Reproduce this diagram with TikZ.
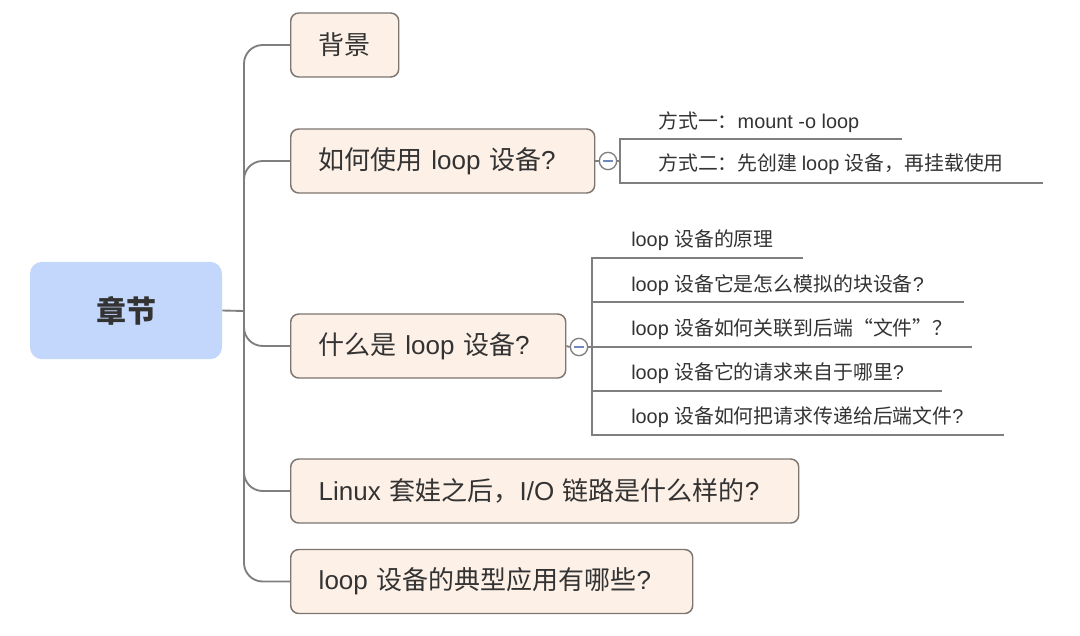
\documentclass[tikz,border=0pt]{standalone}
\usepackage{fontspec}
\setmainfont{Noto Sans CJK SC}
\newfontfamily\cjk{Noto Sans CJK SC}
\newfontfamily\lat{Liberation Sans}
\definecolor{rootfill}{HTML}{C3D6FC}
\definecolor{boxfill}{HTML}{FDF0E7}
\definecolor{boxline}{HTML}{7D7570}
\definecolor{conn}{HTML}{7F7F7F}
\definecolor{txt}{HTML}{333333}
\definecolor{minus}{HTML}{7088C0}
\tikzset{
  rootbox/.style={fill=rootfill, rounded corners=9pt, minimum width=144pt, minimum height=73pt, inner sep=0pt, text=txt, font=\cjk\fontsize{22.5pt}{26pt}\selectfont\bfseries},
  topic/.style={anchor=west, fill=boxfill, draw=boxline, line width=1.1pt, rounded corners=6pt, minimum height=48pt, inner xsep=21pt, inner ysep=0pt, align=left, text=txt, font=\cjk\fontsize{19.5pt}{23pt}\selectfont},
  leaf/.style={anchor=west, inner sep=0pt, text=txt, font=\cjk\fontsize{14.9pt}{18pt}\selectfont},
  link/.style={draw=conn, line width=1.4pt},
  leafline/.style={draw=conn, line width=1.2pt},
  fold/.style={circle, draw=conn, fill=white, line width=1pt, minimum size=13pt, inner sep=0pt}
}
\begin{document}
\begin{tikzpicture}[x=0.75pt, y=-0.75pt]
\useasboundingbox (0,0) rectangle (1080,635);
% root
\node[rootbox] (root) at (126,310.5) {章节};
% topics
\node[topic, text width=39pt] (b1) at (290,45) {\mbox{背景}};
\node[topic, text width=186pt] (b2) at (290,161) {\mbox{如何使用 {\lat loop }设备{\lat ?}}};
\node[topic, text width=164.25pt] (b3) at (290,346) {\mbox{什么是 {\lat loop }设备{\lat ?}}};
\node[topic, text width=339pt] (b4) at (290,491) {\mbox{{\lat Linux }套娃之后，{\lat I/O }链路是什么样的{\lat ?}}};
\node[topic, text width=259.5pt] (b5) at (290,581.5) {\mbox{{\lat loop }设备的典型应用有哪些{\lat ?}}};
% trunk
\coordinate (hub) at (244,311);
\draw[link] (root.east) -- (hub);
\draw[link, rounded corners=14pt] (hub) |- (b1.west);
\draw[link, rounded corners=14pt] (hub) |- (b2.west);
\draw[link, rounded corners=14pt] (hub) |- (b3.west);
\draw[link, rounded corners=14pt] (hub) |- (b4.west);
\draw[link, rounded corners=14pt] (hub) |- (b5.west);
% fold markers
\node[fold] (c2) at (608,161) {};
\node[fold] (c3) at (579,347) {};
\draw[link] (b2.east) -- (c2.west);
\draw[link] (b3.east) -- (c3.west);
\draw[draw=minus, line width=1.1pt] ([xshift=-3.5pt]c2.center) -- ([xshift=3.5pt]c2.center);
\draw[draw=minus, line width=1.1pt] ([xshift=-3.5pt]c3.center) -- ([xshift=3.5pt]c3.center);
% leaves of b2
\coordinate (j2) at (620,161);
\coordinate (e21) at (902,139);
\coordinate (e22) at (1043,183);
\draw[leafline] (c2.east) -- (j2);
\draw[leafline] (j2) |- (e21);
\draw[leafline] (j2) |- (e22);
\node[leaf] (l21) at (658,122) {方式一：{\lat mount -o loop}};
\node[leaf] (l22) at (658,164) {方式二：先创建 {\lat loop }设备，再挂载使用};
% leaves of b3
\coordinate (j3) at (592,347);
\coordinate (e31) at (803,258);
\coordinate (e32) at (964,302);
\coordinate (e33) at (972,347);
\coordinate (e34) at (942,391);
\coordinate (e35) at (1004,435);
\draw[leafline] (c3.east) -- (j3);
\draw[leafline] (j3) |- (e31);
\draw[leafline] (j3) |- (e32);
\draw[leafline] (j3) -- (e33);
\draw[leafline] (j3) |- (e34);
\draw[leafline] (j3) |- (e35);
\node[leaf] (l31) at (631,240) {{\lat loop }设备的原理};
\node[leaf] (l32) at (631,285) {{\lat loop }设备它是怎么模拟的块设备{\lat ?}};
\node[leaf] (l33) at (631,329) {{\lat loop }设备如何关联到后端“文件”？};
\node[leaf] (l34) at (631,373) {{\lat loop }设备它的请求来自于哪里{\lat ?}};
\node[leaf] (l35) at (631,417) {{\lat loop }设备如何把请求传递给后端文件{\lat ?}};
\end{tikzpicture}
\end{document}
